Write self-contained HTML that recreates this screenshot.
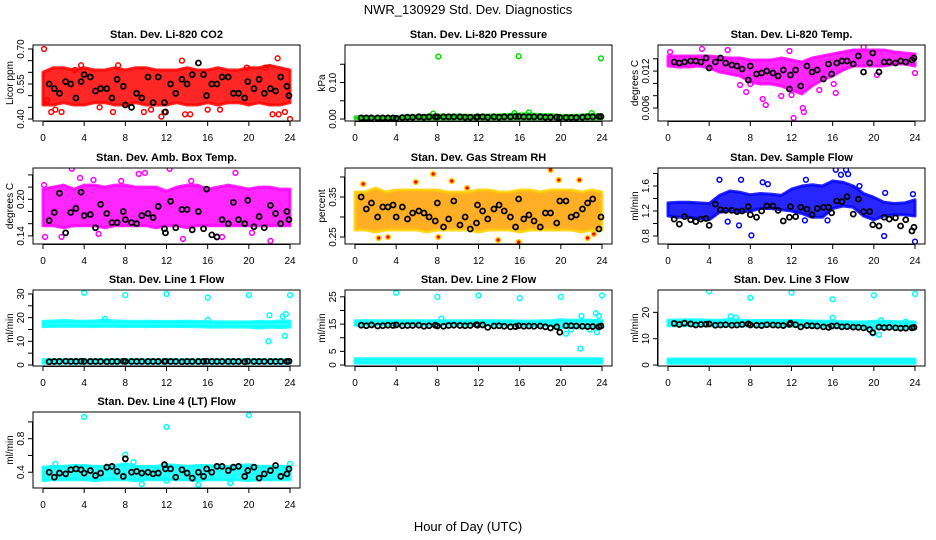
<!DOCTYPE html>
<html><head><meta charset="utf-8"><title>NWR_130929 Std. Dev. Diagnostics</title>
<style>
html,body{margin:0;padding:0;background:#fff;}
svg{display:block;font-family:"Liberation Sans",Arial,sans-serif;}
</style></head>
<body>
<svg id="chart" width="936" height="540" viewBox="0 0 936 540" xmlns="http://www.w3.org/2000/svg">
<text x="468" y="14" text-anchor="middle" font-size="13">NWR_130929 Std. Dev. Diagnostics</text>
<text x="468" y="531" text-anchor="middle" font-size="13">Hour of Day (UTC)</text>
</svg>
<script>
const bandHours=[0,1,2,3,4,5,6,7,8,9,10,11,12,13,14,15,16,17,18,19,20,21,22,23,24];
const blackHours=[0.6,1.1,1.6,2.2,2.7,3.2,3.7,4.0,4.6,5.1,5.6,6.2,6.7,7.2,7.8,8.0,8.6,9.1,9.6,10.2,10.7,11.2,11.8,11.9,12.4,12.9,13.5,14.0,14.5,15.1,15.6,15.9,16.4,16.9,17.4,18.0,18.5,19.0,19.6,19.9,20.5,21.0,21.5,22.1,22.6,23.1,23.7,23.9];
const xTicks=[0,4,8,12,16,20,24];

const co2Lo=[0.46,0.46,0.47,0.46,0.46,0.47,0.47,0.46,0.46,0.47,0.46,0.46,0.46,0.47,0.46,0.46,0.47,0.46,0.47,0.47,0.46,0.47,0.46,0.46,0.47];
const co2Hi=[0.60,0.62,0.62,0.61,0.62,0.61,0.61,0.62,0.61,0.62,0.62,0.61,0.61,0.61,0.62,0.61,0.61,0.62,0.61,0.61,0.62,0.62,0.63,0.62,0.61];
const co2OutX=[0.1,0.4,0.8,1.8,1.2,3.7,3.1,7.3,6.8,9.8,11.5,11.8,13.5,13.8,14.3,16,17.2,19.8,22.8,22.3,22.9,23.5,24,21.6,10.5,5.5];
const co2OutY=[0.70,0.48,0.43,0.43,0.44,0.63,0.61,0.63,0.43,0.43,0.41,0.43,0.65,0.42,0.42,0.44,0.44,0.62,0.66,0.42,0.42,0.43,0.40,0.62,0.44,0.45];
const co2Black=[0.55,0.53,0.51,0.56,0.55,0.49,0.56,0.59,0.58,0.52,0.53,0.53,0.49,0.57,0.54,0.46,0.45,0.51,0.49,0.58,0.47,0.58,0.47,0.43,0.55,0.51,0.57,0.55,0.59,0.64,0.59,0.50,0.55,0.55,0.58,0.58,0.51,0.51,0.49,0.56,0.53,0.57,0.51,0.53,0.52,0.58,0.54,0.50];

const presLo=[0.001,0.001,0.001,0.001,0.001,0.001,0.001,0.001,0.001,0.001,0.001,0.001,0.001,0.001,0.001,0.001,0.001,0.001,0.001,0.001,0.001,0.001,0.001,0.001,0.001];
const presHi=[0.006,0.006,0.006,0.005,0.006,0.008,0.009,0.010,0.011,0.010,0.011,0.010,0.010,0.011,0.011,0.013,0.014,0.014,0.012,0.012,0.010,0.010,0.011,0.013,0.010];
const presOutX=[8.1,15.9,23.9,16.9,23.0,7.6,15.5];
const presOutY=[0.171,0.172,0.166,0.018,0.016,0.015,0.016];
const presBlack=[0.003,0.003,0.003,0.003,0.003,0.003,0.003,0.002,0.004,0.005,0.005,0.006,0.005,0.006,0.006,0.006,0.006,0.006,0.006,0.006,0.005,0.005,0.005,0.006,0.006,0.005,0.006,0.005,0.006,0.006,0.007,0.007,0.006,0.006,0.006,0.006,0.005,0.005,0.005,0.004,0.004,0.004,0.004,0.005,0.006,0.006,0.007,0.007];

const tempLo=[0.01283,0.01267,0.01267,0.01283,0.0125,0.01185,0.01153,0.0112,0.01023,0.0099,0.0099,0.00958,0.00893,0.00828,0.00958,0.01055,0.0112,0.01218,0.01283,0.01283,0.01283,0.01283,0.01315,0.01315,0.01283];
const tempHi=[0.01446,0.01446,0.01446,0.01446,0.01446,0.01429,0.01413,0.01413,0.0138,0.0138,0.0138,0.01413,0.0138,0.01348,0.01413,0.01446,0.01478,0.01511,0.01543,0.01543,0.01543,0.01543,0.01511,0.01494,0.01478];
const tempOutX=[0.2,3.3,5.8,7.6,8,9.5,9.2,11.8,12.2,12.0,13.1,13.2,14.7,16.3,16.1,19.0,20.3,24,11,7];
const tempOutY=[0.0151,0.0156,0.01543,0.0086,0.0099,0.00649,0.00746,0.01527,0.00437,0.00811,0.006,0.00535,0.00893,0.00844,0.0099,0.01592,0.01137,0.01169,0.00795,0.00974];
const tempBlack=[0.01348,0.01332,0.01348,0.01364,0.01364,0.01348,0.01413,0.0125,0.01348,0.01413,0.01332,0.01299,0.01283,0.01234,0.01055,0.01283,0.01153,0.01169,0.01202,0.01169,0.0112,0.01218,0.00909,0.01137,0.01218,0.00958,0.01283,0.01185,0.01218,0.01072,0.01315,0.01153,0.01332,0.01364,0.01364,0.01315,0.01446,0.01185,0.01332,0.01494,0.01185,0.01348,0.01348,0.01332,0.01364,0.01348,0.0138,0.01413];

const ambLo=[0.1567,0.1567,0.1533,0.1567,0.1567,0.1567,0.1533,0.1567,0.1567,0.1567,0.1567,0.1533,0.1567,0.1567,0.1533,0.1567,0.1567,0.1567,0.1567,0.1567,0.1567,0.1567,0.1567,0.1567,0.1567];
const ambHi=[0.2167,0.22,0.2233,0.2167,0.2233,0.2233,0.22,0.2233,0.2233,0.22,0.22,0.22,0.2133,0.22,0.2233,0.2233,0.2167,0.22,0.2233,0.22,0.2167,0.22,0.22,0.2167,0.2167];
const ambOutX=[2.8,12.3,9.3,9.9,3.6,18.7,22.1,13.6,0.2,1.8,0.1,17.4,20.3,5.4,14.4,4.9,7.6];
const ambOutY=[0.25,0.25,0.2417,0.2433,0.235,0.2433,0.1317,0.135,0.1383,0.1383,0.2233,0.1383,0.145,0.1433,0.23,0.2317,0.23];
const ambBlack=[0.165,0.1783,0.21,0.145,0.1783,0.185,0.2117,0.1733,0.175,0.1533,0.1917,0.1767,0.1617,0.1617,0.18,0.1667,0.1617,0.16,0.1733,0.1767,0.17,0.1883,0.1517,0.145,0.1967,0.1533,0.1833,0.1833,0.15,0.18,0.1517,0.2167,0.1417,0.1383,0.1667,0.16,0.195,0.1667,0.16,0.1983,0.155,0.1717,0.1533,0.19,0.1767,0.16,0.18,0.1667];

const rhLo=[0.2675,0.2675,0.2625,0.2675,0.2675,0.2675,0.2675,0.2625,0.2675,0.2675,0.2675,0.2675,0.2625,0.2675,0.2675,0.2675,0.2625,0.2675,0.2675,0.2675,0.2675,0.2675,0.2625,0.2675,0.2675];
const rhHi=[0.3625,0.3625,0.3725,0.3625,0.3675,0.3675,0.3675,0.3675,0.3675,0.3625,0.3625,0.3625,0.3675,0.3675,0.3625,0.3625,0.3675,0.3675,0.3625,0.3675,0.3675,0.3675,0.3625,0.3675,0.3625];
const rhOutX=[7.6,19,0.8,5.9,9.4,10.9,19.8,21.8,2.3,3.2,8.1,13.9,15.9,22.6,23.2];
const rhOutY=[0.4075,0.4175,0.3825,0.3875,0.39,0.3725,0.3925,0.3925,0.2475,0.25,0.25,0.2425,0.2375,0.2475,0.2575];
const rhBlack=[0.35,0.32,0.335,0.30,0.325,0.325,0.33,0.30,0.325,0.295,0.31,0.315,0.31,0.30,0.29,0.335,0.275,0.295,0.34,0.28,0.30,0.27,0.285,0.33,0.315,0.295,0.32,0.33,0.315,0.30,0.275,0.345,0.295,0.305,0.29,0.275,0.31,0.31,0.285,0.34,0.34,0.30,0.305,0.32,0.335,0.345,0.27,0.30];

const sfLo=[1.12,1.10,1.10,1.08,1.06,1.18,1.20,1.18,1.20,1.24,1.24,1.22,1.20,1.16,1.10,1.10,1.24,1.28,1.26,1.12,1.06,1.12,1.14,1.14,1.12];
const sfHi=[1.33,1.34,1.34,1.33,1.32,1.45,1.52,1.50,1.46,1.48,1.47,1.45,1.55,1.60,1.62,1.60,1.68,1.66,1.60,1.48,1.42,1.34,1.32,1.33,1.38];
const sfOutX=[5,7.1,9.2,9.7,16.3,17.3,16.8,17.5,18.6,21.1,8.1,21,24,6.9,5.8,13.3,15.5,23.8,13.4];
const sfOutY=[1.70,1.70,1.66,1.63,1.86,1.86,1.78,1.79,1.60,1.49,0.81,0.80,0.71,0.97,1.03,1.05,1.05,1.47,1.70];
const sfBlack=[1.07,0.99,1.11,1.06,1.03,1.07,1.08,0.97,1.31,1.22,1.21,1.21,1.19,1.20,1.27,1.14,1.10,1.20,1.28,1.28,1.21,1.04,1.10,1.27,1.11,1.26,1.23,1.14,1.24,1.26,1.26,1.17,1.36,1.35,1.43,1.15,1.39,1.19,1.19,0.98,0.96,1.10,1.07,1.09,0.96,1.06,0.88,0.94];

const flowLowLo=[0.7,0.7,0.7,0.7,0.7,0.7,0.7,0.7,0.7,0.7,0.7,0.7,0.7,0.7,0.7,0.7,0.7,0.7,0.7,0.7,0.7,0.7,0.7,0.7,0.7];
const flowLowHi=[2.3,2.3,2.3,2.3,2.3,2.3,2.3,2.3,2.3,2.3,2.3,2.3,2.3,2.3,2.3,2.3,2.3,2.3,2.3,2.3,2.3,2.3,2.3,2.3,2.3];

const l1Lo=[16.2,16.3,16.4,16.3,16.3,16.2,16.4,16.3,16.2,16.3,16.2,16.3,16.2,16.3,16.2,16.2,16.0,16.0,16.1,16.0,16.0,15.6,16.0,15.8,16.0];
const l1Hi=[18.4,18.6,18.8,18.6,18.5,18.6,19.0,18.6,18.5,18.4,18.5,18.4,18.4,18.4,18.5,18.4,18.3,18.3,18.2,18.2,18.2,18.4,18.3,18.6,18.6];
const l1OutX=[4,8,12,16,20,24,22,23.6,23.3,21.9,23.5,16,6];
const l1OutY=[30.5,29.5,30,28.5,29.5,29.5,21,21.5,20.5,10,12.3,19,19.5];
const l1Black=[1.4,1.5,1.5,1.6,1.5,1.5,1.6,1.5,1.5,1.5,1.5,1.4,1.5,1.5,1.6,1.5,1.5,1.5,1.5,1.5,1.5,1.5,1.5,1.6,1.5,1.5,1.4,1.5,1.5,1.5,1.5,1.6,1.5,1.5,1.5,1.5,1.5,1.5,1.4,1.6,1.5,1.5,1.5,1.5,1.5,1.5,1.5,1.6];

const l2Lo=[14.6,14.7,14.7,14.7,14.6,14.7,14.7,14.6,14.7,14.7,14.7,14.6,14.7,14.6,14.6,14.6,14.5,14.5,14.5,14.4,13.6,13.8,13.6,13.8,14.0];
const l2Hi=[16.2,16.3,16.3,16.2,16.2,16.2,16.3,16.2,16.3,16.2,16.2,16.2,16.3,16.3,16.2,16.2,16.1,16.1,16.2,16.2,16.6,16.4,16.5,16.4,16.3];
const l2OutX=[4,8,12,16,20,24,21.9,22,23.4,23.7,23.5,20.5,8.4,21,22.8];
const l2OutY=[26.5,25,25.5,24.5,25,25.5,6,18,19,18,12,11.5,17,13,13];
const l2Black=[14.6,14.4,14.7,14.3,14.4,14.6,14.5,14.7,14.4,14.5,14.5,14.6,14.2,14.4,14.6,14.3,14.2,14.5,14.6,14.5,14.4,14.5,14.8,14.6,14.7,13.8,14.3,14.4,14.2,14.0,14.1,14.4,14.2,14.3,14.2,14.3,14.0,13.6,14.0,12.0,14.4,14.4,14.3,14.2,14.1,14.1,14.0,14.3];

const l3Lo=[14.9,14.9,15.0,15.0,14.9,14.9,14.8,14.9,14.8,14.8,14.8,14.8,14.8,14.8,14.7,14.6,14.4,14.3,14.2,14.2,13.8,14.0,14.0,14.0,14.0];
const l3Hi=[17.0,17.1,17.2,17.2,17.0,17.0,17.3,17.0,16.9,16.9,16.9,16.9,16.9,16.9,16.7,16.7,16.5,16.5,16.4,16.4,16.6,16.6,16.5,16.4,16.4];
const l3OutX=[4,8,12,16,20,24,6.1,6.6,16,20.5,20.7,19.9,23.1];
const l3OutY=[28,25.5,27.5,25,26.5,27,18.5,18,18,11.5,17,12,16.5];
const l3Black=[15.8,15.4,15.9,15.6,15.2,15.4,15.5,15.6,15.1,15.2,15.3,15.1,15.2,15.4,15.6,15.2,15.1,15.0,15.3,15.2,15.1,15.0,15.4,15.9,15.3,14.5,15.0,14.9,14.8,14.5,14.3,14.8,14.9,14.5,14.6,14.4,14.3,14.1,13.5,12.3,14.4,14.2,14.3,14.1,14.0,14.0,14.1,14.3];

const l4Lo=[0.30,0.31,0.31,0.31,0.31,0.30,0.31,0.31,0.31,0.30,0.31,0.31,0.31,0.31,0.31,0.30,0.31,0.31,0.31,0.31,0.30,0.31,0.31,0.31,0.31];
const l4Hi=[0.46,0.47,0.47,0.48,0.48,0.47,0.47,0.48,0.50,0.47,0.47,0.47,0.49,0.48,0.47,0.48,0.48,0.47,0.47,0.48,0.49,0.47,0.47,0.47,0.47];
const l4OutX=[4,12,20,8,9.6,15.1,12,18.2,1.2,24,8.8];
const l4OutY=[1.06,0.94,1.08,0.61,0.26,0.25,0.30,0.27,0.50,0.50,0.52];
const l4Black=[0.40,0.34,0.39,0.38,0.43,0.44,0.43,0.39,0.42,0.36,0.39,0.46,0.47,0.41,0.35,0.56,0.40,0.41,0.39,0.40,0.38,0.39,0.49,0.44,0.44,0.34,0.43,0.39,0.33,0.40,0.35,0.44,0.40,0.47,0.47,0.42,0.46,0.47,0.35,0.42,0.46,0.33,0.38,0.42,0.48,0.35,0.38,0.44];

const co2Ticks=[0.40,0.45,0.50,0.55,0.60,0.65,0.70], co2Labels=["0.40","","","0.55","","","0.70"];
const presTicks=[0,0.05,0.10,0.15], presLabels=["0.00","","0.10",""];
const tempTicks=[0.006,0.008,0.010,0.012,0.014], tempLabels=["0.006","","","0.012",""];
const ambTicks=[0.14,0.16,0.18,0.20,0.22,0.24], ambLabels=["0.14","","","0.20","",""];
const rhTicks=[0.25,0.30,0.35,0.40], rhLabels=["0.25","","0.35",""];
const sfTicks=[0.8,1.0,1.2,1.4,1.6,1.8], sfLabels=["0.8","","1.2","","1.6",""];
const l1Ticks=[0,5,10,15,20,25,30], l1Labels=["0","","10","","20","","30"];
const l2Ticks=[0,5,10,15,20,25], l2Labels=["0","5","","15","","25"];
const l3Ticks=[0,10,20], l3Labels=["0","10","20"];
const l4Ticks=[0.4,0.6,0.8,1.0], l4Labels=["0.4","","0.8",""];

const panels=[
 {id:'co2',title:'Stan. Dev. Li-820 CO2',ytitle:'Licor ppm',c:0,r:0,dom:[0.3914,0.7171],bands:[[co2Lo,co2Hi]],ox:co2OutX,oy:co2OutY,bk:co2Black,col:'#ff0000',ticks:co2Ticks,labels:co2Labels},
 {id:'pressure',title:'Stan. Dev. Li-820 Pressure',ytitle:'kPa',c:1,r:0,dom:[-0.0054,0.2027],bands:[[presLo,presHi]],ox:presOutX,oy:presOutY,bk:presBlack,col:'#00e000',ticks:presTicks,labels:presLabels},
 {id:'li820-temp',title:'Stan. Dev. Li-820 Temp.',ytitle:'degrees C',c:2,r:0,dom:[0.00389,0.01624],bands:[[tempLo,tempHi]],ox:tempOutX,oy:tempOutY,bk:tempBlack,col:'#ff00ff',ticks:tempTicks,labels:tempLabels},
 {id:'amb-temp',title:'Stan. Dev. Amb. Box Temp.',ytitle:'degrees C',c:0,r:1,dom:[0.1267,0.2513],bands:[[ambLo,ambHi]],ox:ambOutX,oy:ambOutY,bk:ambBlack,col:'#ff00ff',ticks:ambTicks,labels:ambLabels},
 {id:'rh',title:'Stan. Dev. Gas Stream RH',ytitle:'percent',c:1,r:1,dom:[0.2325,0.4225],bands:[[rhLo,rhHi]],ox:rhOutX,oy:rhOutY,bk:rhBlack,col:'#ffa000',ring:'#ffd000',ticks:rhTicks,labels:rhLabels},
 {id:'sample-flow',title:'Stan. Dev. Sample Flow',ytitle:'ml/min',c:2,r:1,dom:[0.672,1.888],bands:[[sfLo,sfHi]],ox:sfOutX,oy:sfOutY,bk:sfBlack,col:'#0000ff',ticks:sfTicks,labels:sfLabels},
 {id:'line1',title:'Stan. Dev. Line 1 Flow',ytitle:'ml/min',c:0,r:2,dom:[-0.42,31.67],bands:[[l1Lo,l1Hi],[flowLowLo,flowLowHi]],ox:l1OutX,oy:l1OutY,bk:l1Black,col:'#00ffff',ticks:l1Ticks,labels:l1Labels},
 {id:'line2',title:'Stan. Dev. Line 2 Flow',ytitle:'ml/min',c:1,r:2,dom:[-0.36,27.5],bands:[[l2Lo,l2Hi],[flowLowLo,flowLowHi]],ox:l2OutX,oy:l2OutY,bk:l2Black,col:'#00ffff',ticks:l2Ticks,labels:l2Labels},
 {id:'line3',title:'Stan. Dev. Line 3 Flow',ytitle:'ml/min',c:2,r:2,dom:[-0.37,28.5],bands:[[l3Lo,l3Hi],[flowLowLo,flowLowHi]],ox:l3OutX,oy:l3OutY,bk:l3Black,col:'#00ffff',ticks:l3Ticks,labels:l3Labels},
 {id:'line4',title:'Stan. Dev. Line 4 (LT) Flow',ytitle:'ml/min',c:0,r:3,dom:[0.212,1.118],bands:[[l4Lo,l4Hi]],ox:l4OutX,oy:l4OutY,bk:l4Black,col:'#00ffff',ticks:l4Ticks,labels:l4Labels}
];

const NS='http://www.w3.org/2000/svg';
const svg=document.getElementById('chart');
const colLeft=[33,345,658], rowTop=[45,168,290,412], W=267, H=76;
function mk(tag,attrs,parent){const e=document.createElementNS(NS,tag);for(const k in attrs)e.setAttribute(k,attrs[k]);parent.appendChild(e);return e;}

panels.forEach(p=>{
  const L=colLeft[p.c], T=rowTop[p.r], B=T+H;
  const xs=h=>L+10+h/24*247;
  const ys=v=>B-(v-p.dom[0])/(p.dom[1]-p.dom[0])*H;
  const g=mk('g',{},svg);
  
  
  const cp=mk('clipPath',{id:'clip-'+p.id},g);
  mk('rect',{x:L,y:T,width:W,height:H},cp);
  const plot=mk('g',{'clip-path':'url(#clip-'+p.id+')'},g);
  p.bands.forEach((b,bi)=>{
    let pts=[];
    bandHours.forEach((h,i)=>pts.push(xs(h).toFixed(1)+','+ys(b[1][i]).toFixed(1)));
    for(let i=bandHours.length-1;i>=0;i--)pts.push(xs(bandHours[i]).toFixed(1)+','+ys(b[0][i]).toFixed(1));
    const poly=mk('polygon',{points:pts.join(' '),fill:p.col,'fill-opacity':0.85,stroke:p.ring||p.col,'stroke-opacity':0.85,'stroke-width':3,'stroke-linejoin':'round'},plot);
    
    
  });
  p.ox.forEach((h,i)=>{
    const c=mk('circle',{cx:xs(h),cy:ys(p.oy[i]),r:2.4,fill:p.ring?'#ff0000':'none',stroke:p.ring||p.col,'stroke-width':1.5},plot);
    
    
  });
  p.bk.forEach((v,i)=>{
    const c=mk('circle',{cx:xs(blackHours[i]),cy:ys(v),r:2.5,fill:'none',stroke:'#000','stroke-width':1.8},plot);
    
    
  });
  const box=mk('rect',{x:L,y:T,width:W,height:H,fill:'none',stroke:'#000','stroke-width':1},g);
  
  
  const t=mk('text',{x:L+W/2,y:T-7,'text-anchor':'middle','font-size':11,'font-weight':'bold'},g);
  t.textContent=p.title;
  
  
  const xa=mk('g',{},g);
  
  
  mk('line',{x1:xs(0),x2:xs(24),y1:B+0.5,y2:B+0.5,stroke:'#000'},xa);
  xTicks.forEach(h=>{
    mk('line',{x1:xs(h),x2:xs(h),y1:B,y2:B+5,stroke:'#000'},xa);
    const tl=mk('text',{x:xs(h),y:B+20,'text-anchor':'middle','font-size':10},xa);
    tl.textContent=h;
    
    
  });
  const ya=mk('g',{},g);
  
  
  const t0=p.ticks[0], t1=p.ticks[p.ticks.length-1];
  mk('line',{x1:L-0.5,x2:L-0.5,y1:ys(t0),y2:ys(t1),stroke:'#000'},ya);
  p.ticks.forEach((v,i)=>{
    mk('line',{x1:L-5,x2:L,y1:ys(v),y2:ys(v),stroke:'#000'},ya);
    if(p.labels[i]){
      const tl=mk('text',{x:0,y:0,'text-anchor':'middle','font-size':10,transform:'translate('+(L-9)+','+ys(v)+') rotate(-90)'},ya);
      tl.textContent=p.labels[i];
      
      
    }
  });
  const yt=mk('text',{x:0,y:0,'text-anchor':'middle','font-size':10,transform:'translate('+(L-20)+','+(T+H/2)+') rotate(-90)'},g);
  yt.textContent=p.ytitle;
  
  
});
</script>
</body></html>
